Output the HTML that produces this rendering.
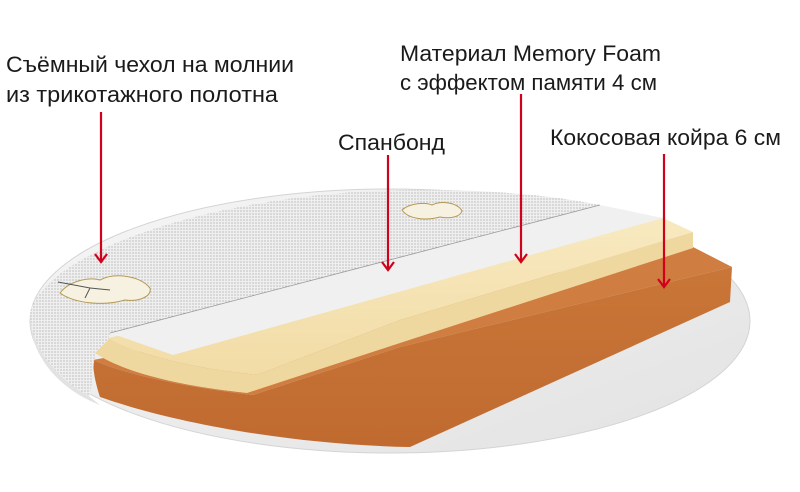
<!DOCTYPE html>
<html><head><meta charset="utf-8"><style>
html,body{margin:0;padding:0;background:#fff;overflow:hidden}
svg{display:block}
text{font-family:"Liberation Sans Narrow","Liberation Sans",sans-serif;font-size:22px;fill:#1a1a1a}
</style></head><body>
<svg width="800" height="492" viewBox="0 0 800 492" xmlns="http://www.w3.org/2000/svg">
<defs>
<linearGradient id="disc" x1="0" y1="0" x2="1" y2="1"><stop offset="0" stop-color="#f6f6f6"/><stop offset="1" stop-color="#e2e2e2"/></linearGradient>
<linearGradient id="coirFront" x1="0" y1="0" x2="0" y2="1"><stop offset="0" stop-color="#c97638"/><stop offset="1" stop-color="#c06a30"/></linearGradient>
<linearGradient id="yel" x1="0" y1="0" x2="0" y2="1"><stop offset="0" stop-color="#f8e9c0"/><stop offset="1" stop-color="#f2dca6"/></linearGradient>
<pattern id="dots" width="3" height="3" patternUnits="userSpaceOnUse"><rect width="3" height="3" fill="#efefef"/><circle cx="1" cy="1" r="0.65" fill="#a8a8a8"/></pattern>
</defs>
<!-- base disc -->
<ellipse cx="390" cy="321" rx="360" ry="132" fill="url(#disc)" stroke="#d4d4d4"/>
<!-- coir -->
<path d="M93,360 L693,247 L732,267 L400,347 L253,395 C170,385 120,372 93,360 Z" fill="#cf7d40"/>
<path d="M732,267 L730,302 L410,447 C300,445 180,425 100,397 C96,385 93,372 93,360 C120,372 170,385 253,395 L400,347 Z" fill="url(#coirFront)"/>
<!-- memory foam -->
<path d="M108,338 L663,218 L693,232 L400,320 L257,375 C190,368 140,355 108,338 Z" fill="url(#yel)"/>
<path d="M693,232 L693,248 L400,343 L247,393 C170,385 120,370 95,353 L108,338 C140,355 190,368 257,375 L400,320 Z" fill="#efd8a0"/>
<!-- spanbond strip -->
<polygon points="110,333 600,205 663,218 173,355" fill="#f0f0f0"/>
<!-- cover -->
<path d="M110,333 L600,205 C540,193 470,189 404,190 C220,193 45,250 30,313 C30,350 60,380 90,397 L95,353 L108,340 Z" fill="url(#dots)"/>
<path d="M30,313 C30,350 60,380 90,397 L100,405 C60,390 28,355 30,313 Z" fill="#e2e2e2"/>
<line x1="110" y1="333" x2="600" y2="205" stroke="#9a9a9a" stroke-width="0.8"/>
<g fill="#f6f1e0" stroke="#b39a55" stroke-width="1">
<path d="M60,293 C70,280 90,277 100,280 C115,272 140,276 150,288 C152,296 140,302 125,300 C105,306 75,304 60,293 Z"/>
<path d="M402,210 C410,203 425,202 432,205 C442,200 458,203 462,211 C460,217 450,219 440,217 C425,221 408,219 402,210 Z"/>
</g>
<g stroke="#555" stroke-width="1" fill="none">
<path d="M58,282 L90,288 L85,298"/><path d="M90,288 L110,290"/>
</g>
<!-- arrows -->
<g stroke="#d0021b" stroke-width="2.2" fill="none">
<line x1="101" y1="112" x2="101" y2="261"/><polyline points="95,254 101,262 107,254"/>
<line x1="388" y1="155" x2="388" y2="269"/><polyline points="382,262 388,270 394,262"/>
<line x1="521" y1="94" x2="521" y2="261"/><polyline points="515,254 521,262 527,254"/>
<line x1="664" y1="154" x2="664" y2="286"/><polyline points="658,279 664,287 670,279"/>
</g>
<!-- labels -->
<text x="6" y="72" textLength="288" lengthAdjust="spacingAndGlyphs">Съёмный чехол на молнии</text>
<text x="6" y="102" textLength="272" lengthAdjust="spacingAndGlyphs">из трикотажного полотна</text>
<text x="400" y="61" textLength="261" lengthAdjust="spacingAndGlyphs">Материал Memory Foam</text>
<text x="400" y="90" textLength="257" lengthAdjust="spacingAndGlyphs">с эффектом памяти 4 см</text>
<text x="338" y="150" textLength="107" lengthAdjust="spacingAndGlyphs">Спанбонд</text>
<text x="550" y="145" textLength="231" lengthAdjust="spacingAndGlyphs">Кокосовая койра 6 см</text>
</svg>
</body></html>
